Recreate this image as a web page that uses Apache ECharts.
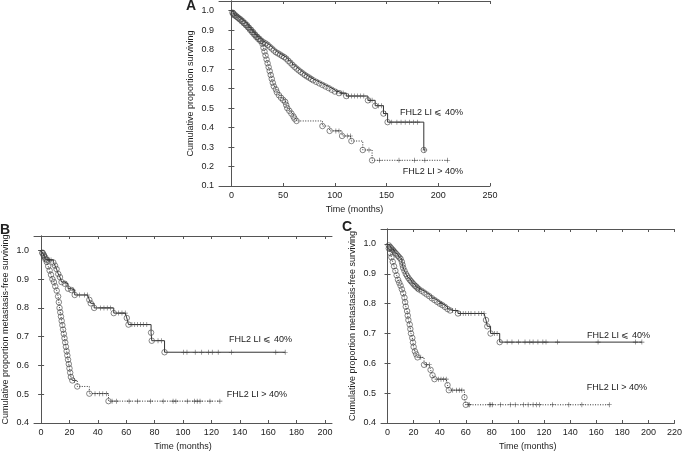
<!DOCTYPE html>
<html><head><meta charset="utf-8">
<script src="https://cdn.jsdelivr.net/npm/echarts@6/dist/echarts.min.js"></script>
<style>html,body{margin:0;padding:0;background:#fff}#c{width:685px;height:452px}</style>
</head><body><div id="c"></div>
<script>
// ---------- Panel A : overall survival ----------
const aXTicks = [0, 50, 100, 150, 200, 250];
const aYTicks = [0.1, 0.2, 0.3, 0.4, 0.5, 0.6, 0.7, 0.8, 0.9, 1.0];
const aLowEvents = [[0,1.0],[1,0.99],[2,0.982],[3,0.976],[5,0.97],[7,0.962],[9,0.955],[11,0.946],[13,0.936],[15,0.926],[17,0.913],[19,0.902],[21,0.89],[23,0.877],[25,0.866],[27,0.856],[29,0.846],[31,0.838],[33,0.832],[35,0.825],[37,0.815],[39,0.806],[41,0.796],[43,0.787],[45,0.781],[47,0.775],[49,0.768],[51,0.762],[53,0.754],[55,0.743],[57,0.733],[59,0.722],[61,0.712],[63,0.703],[65,0.694],[67,0.686],[69,0.678],[71,0.67],[73,0.663],[75,0.657],[77,0.65],[79,0.643],[82,0.635],[85,0.627],[88,0.619],[91,0.611],[94,0.603],[97,0.594],[100,0.585],[104,0.577],[111,0.562],[132,0.54],[139,0.512],[147,0.472],[151,0.428],[186,0.285]];
const aLowCensor = [102,106,108,113,116,119,122,125,128,134,136,142,145,149,155,160,164,168,172,176,180,187];
const aHighEvents = [[0,1.0],[2,0.986],[4,0.976],[6,0.966],[8,0.956],[10,0.946],[12,0.936],[14,0.926],[16,0.915],[18,0.902],[20,0.89],[22,0.878],[24,0.866],[26,0.855],[28,0.845],[30,0.83],[31,0.81],[32,0.79],[33,0.77],[34,0.75],[35,0.73],[36,0.71],[37,0.69],[38,0.67],[39,0.65],[40,0.63],[41,0.612],[43,0.596],[44,0.581],[46,0.566],[48,0.553],[50,0.542],[52,0.532],[53,0.516],[54,0.5],[56,0.486],[58,0.472],[60,0.457],[61,0.446],[63,0.434],[88,0.408],[95,0.383],[107,0.357],[116,0.331],[127,0.285],[136,0.232]];
const aHighCensor = [101,104,112,115,133,143,162,177,187,209];

// ---------- Panel B : metastasis-free survival ----------
const bXTicks = [0, 20, 40, 60, 80, 100, 120, 140, 160, 180, 200];
const bYTicks = [0.4, 0.5, 0.6, 0.7, 0.8, 0.9, 1.0];
const bLowEvents = [[0,1.0],[1,0.992],[2,0.984],[3,0.975],[4,0.967],[8.6,0.958],[9.8,0.947],[10.9,0.935],[12.1,0.918],[13.3,0.907],[14.4,0.89],[16.7,0.884],[19,0.867],[21.4,0.862],[23.7,0.845],[34,0.828],[35,0.816],[37.4,0.8],[51.2,0.782],[60.4,0.765],[61.6,0.742],[77.5,0.714],[78,0.686],[87,0.646]];
const bLowCensor = [5,6,7,17.5,22.5,27,30.5,32.8,42,44.3,46.6,48.9,54.7,57,59.3,64,66,68,70,72,74.5,82.4,84.7,100.5,102.8,108.6,113.2,117.9,120.6,124.8,134.1,165.4,172];
const bHighEvents = [[0,1.0],[1,0.99],[2,0.98],[3,0.97],[4,0.96],[5,0.945],[6,0.93],[7,0.915],[8,0.9],[9,0.89],[10,0.875],[11,0.86],[12,0.84],[12.5,0.82],[13,0.8],[13.5,0.785],[14,0.77],[14.5,0.755],[15,0.74],[15.5,0.725],[16,0.71],[16.5,0.695],[17,0.68],[17.5,0.665],[18,0.65],[18.5,0.635],[19,0.62],[19.5,0.605],[20,0.59],[20.5,0.575],[21,0.56],[22,0.548],[25.5,0.527],[34,0.502],[47.5,0.476]];
const bHighCensor = [23.5,38,41,43.5,46,50,53,62,68,77,86,93,95,103,108,110,112,119,126];

// ---------- Panel C : metastasis-free survival ----------
const cXTicks = [0, 20, 40, 60, 80, 100, 120, 140, 160, 180, 200, 220];
const cYTicks = [0.4, 0.5, 0.6, 0.7, 0.8, 0.9, 1.0];
const cLowEvents = [[0,1.0],[1,0.995],[2,0.99],[3,0.985],[4,0.98],[5,0.975],[6,0.97],[7,0.965],[8,0.96],[9,0.955],[10,0.95],[11,0.94],[11.5,0.93],[12,0.92],[13,0.91],[14,0.9],[15,0.893],[16,0.886],[17,0.88],[18,0.875],[19,0.87],[20,0.865],[21,0.86],[22,0.857],[23,0.852],[24,0.848],[26,0.843],[28,0.837],[30,0.831],[32,0.825],[34,0.818],[36,0.812],[38,0.806],[40,0.8],[42,0.795],[44,0.789],[46,0.782],[48,0.777],[54,0.767],[75.5,0.745],[76.5,0.724],[79,0.7],[86,0.671]];
const cLowCensor = [4.5,24.5,41,50,52,56,58,60,62,64,67,70,72,74,82,84,91.7,95.4,100.4,105.4,109.1,111.6,115.3,119.1,121.5,130.3,161.4,190,195];
const cHighEvents = [[0,1.0],[1,0.985],[2,0.97],[3,0.955],[4,0.94],[5,0.925],[6,0.91],[7,0.895],[8,0.88],[9,0.87],[10,0.86],[11,0.848],[12,0.835],[13,0.82],[13.5,0.805],[14,0.79],[15,0.775],[15.5,0.76],[16,0.745],[17,0.73],[17.5,0.715],[18,0.7],[19,0.685],[19.5,0.67],[20,0.655],[21,0.64],[22,0.63],[23,0.62],[28,0.595],[33,0.578],[34.5,0.56],[36,0.547],[46,0.527],[47,0.51],[59,0.486],[60,0.461]];
const cHighCensor = [25.5,30,32,39,41,43,45,50,53,55,57,61.8,63,78,79.2,80.4,86.7,94.1,97.9,104.1,107.8,111.6,114.1,116.6,126.5,139,149,170];

const labelLow = 'FHL2 LI \u2A7D 40%';
const labelHigh = 'FHL2 LI > 40%';

// ---------- helpers ----------
const FONT = "'Liberation Sans', Arial, Helvetica, sans-serif";
function valueAt(events, t) { let v = 1; for (const e of events) { if (e[0] <= t) v = e[1]; } return v; }
function stepData(events, censors) {
  const pts = events.map(e => [e[0], e[1]]);
  censors.forEach(t => pts.push([t, valueAt(events, t)]));
  pts.sort((a, b) => a[0] - b[0]);
  return pts;
}
function censorPts(events, censors) { return censors.map(t => [t, valueAt(events, t)]); }
const PLUS = 'path://M-0.12,-1H0.12V-0.12H1V0.12H0.12V1H-0.12V0.12H-1V-0.12H-0.12Z';

const grids = [
  {left: 219, top: 1, width: 271, height: 185},
  {left: 30, top: 236, width: 302, height: 190},
  {left: 381, top: 229, width: 300, height: 196}
];
const xRanges = [[-12, 250, aXTicks], [-5, 205, bXTicks], [-5, 220, cXTicks]];
const yRanges = [[0.1, 1.05, aYTicks], [0.4, 1.05, bYTicks], [0.4, 1.05, cYTicks]];
const yNames = ['Cumulative proportion surviving', 'Cumulative proportion metastasis-free surviving', 'Cumulative proportion metastasis-free surviving'];

const axLine = {show: true, lineStyle: {color: '#555', width: 1}};
const xAxis = [], yAxis = [];
for (let i = 0; i < 3; i++) {
  const [xmin, xmax, xt] = xRanges[i];
  const [ymin, ymax, yt] = yRanges[i];
  xAxis.push({type: 'value', gridIndex: i, min: xmin, max: xmax, position: 'bottom',
    name: 'Time (months)', nameLocation: 'middle', nameGap: 19,
    nameTextStyle: {fontFamily: FONT, fontSize: 9, color: '#222'},
    axisLine: axLine, splitLine: {show: false},
    axisTick: {show: true, inside: true, length: 3, customValues: xt, lineStyle: {color: '#555'}},
    axisLabel: {customValues: xt, fontFamily: FONT, fontSize: 9, color: '#222', margin: 5}});
  xAxis.push({type: 'value', gridIndex: i, min: xmin, max: xmax, position: 'top',
    axisLine: axLine, splitLine: {show: false},
    axisTick: {show: true, inside: true, length: 3, customValues: xt, lineStyle: {color: '#555'}},
    axisLabel: {show: false}});
  yAxis.push({type: 'value', gridIndex: i, min: ymin, max: ymax, position: 'left',
    name: yNames[i], nameLocation: 'middle', nameGap: 24,
    nameTextStyle: {fontFamily: FONT, fontSize: 9, color: '#222'},
    axisLine: axLine, splitLine: {show: false},
    axisTick: {show: true, inside: true, length: 3, customValues: yt, lineStyle: {color: '#555'}},
    axisLabel: {customValues: yt, formatter: v => v.toFixed(1), fontFamily: FONT, fontSize: 9, color: '#222', margin: 5}});
  yAxis.push({type: 'value', gridIndex: i, min: ymin, max: ymax, position: 'right',
    axisLine: axLine, splitLine: {show: false},
    axisTick: {show: true, inside: true, length: 3, customValues: yt, lineStyle: {color: '#555'}},
    axisLabel: {show: false}});
}

const panels = [
  [aLowEvents, aLowCensor, aHighEvents, aHighCensor],
  [bLowEvents, bLowCensor, bHighEvents, bHighCensor],
  [cLowEvents, cLowCensor, cHighEvents, cHighCensor]
];
const series = [];
panels.forEach((p, i) => {
  const [le, lc, he, hc] = p;
  const xi = i * 2, yi = i * 2;
  [[le, lc, 'solid'], [he, hc, [1, 1.5]]].forEach(([ev, ce, ls]) => {
    series.push({type: 'line', xAxisIndex: xi, yAxisIndex: yi, step: 'end', showSymbol: false,
      data: stepData(ev, ce), lineStyle: {color: '#333', width: 1, type: ls}, silent: true, z: 2, animation: false});
    series.push({type: 'scatter', xAxisIndex: xi, yAxisIndex: yi, symbol: 'circle', symbolSize: 5.5,
      data: ev.slice(1), itemStyle: {color: 'rgba(255,255,255,0)', borderColor: '#444', borderWidth: 0.8}, z: 3, animation: false});
    series.push({type: 'scatter', xAxisIndex: xi, yAxisIndex: yi, symbol: PLUS, symbolSize: 5,
      data: censorPts(ev, ce), itemStyle: {color: '#333'}, z: 4, animation: false});
  });
});

function txt(x, y, text, align, size, bold) {
  return {type: 'text', x: x, y: y, style: {text: text, align: align, verticalAlign: 'middle',
    font: (bold ? 'bold ' : '') + size + 'px ' + FONT, fill: '#222'}};
}
const graphic = [
  txt(191, 6, 'A', 'center', 14, true),
  txt(5, 230, 'B', 'center', 14, true),
  txt(347, 227, 'C', 'center', 14, true),
  txt(463, 113, labelLow, 'right', 9),
  txt(463, 172, labelHigh, 'right', 9),
  txt(292, 340, labelLow, 'right', 9),
  txt(287, 395, labelHigh, 'right', 9),
  txt(650, 336, labelLow, 'right', 9),
  txt(647, 388, labelHigh, 'right', 9)
];

const chart = echarts.init(document.getElementById('c'), null, {renderer: 'canvas'});
chart.setOption({animation: false, backgroundColor: '#fff', grid: grids, xAxis: xAxis, yAxis: yAxis, series: series, graphic: graphic});
</script></body></html>
